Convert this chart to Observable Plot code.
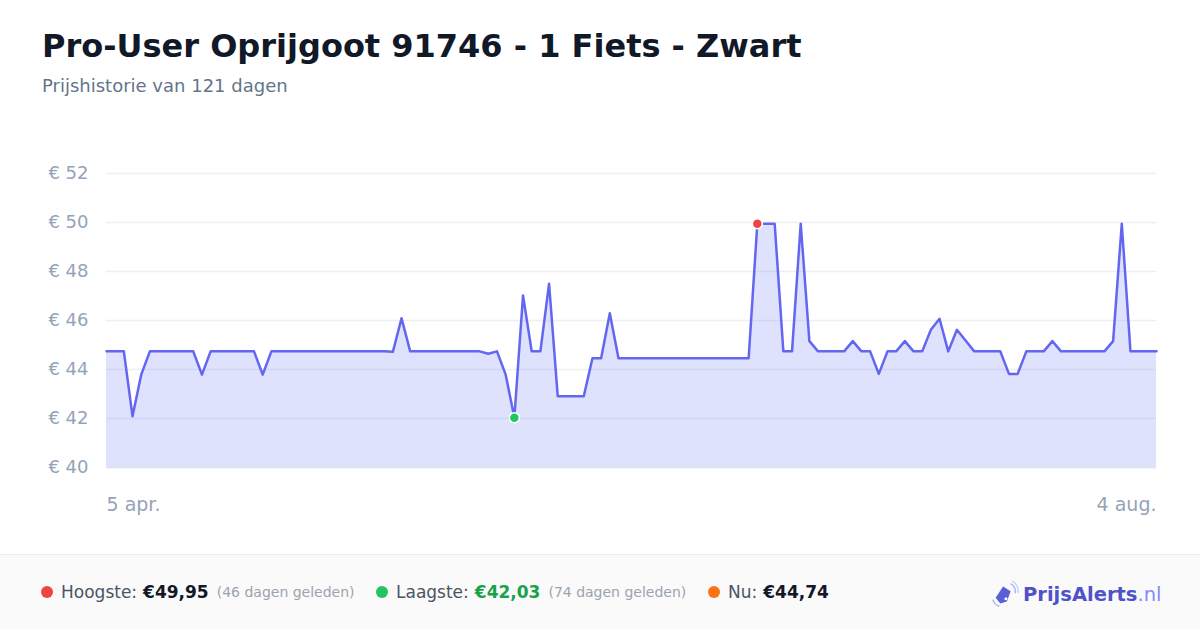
<!DOCTYPE html>
<html><head><meta charset="utf-8">
<script src="https://cdn.jsdelivr.net/npm/d3@7"></script>
<script src="https://cdn.jsdelivr.net/npm/@observablehq/plot@0.6"></script>
<style>
  html,body{margin:0;padding:0;background:#fff;}
  body{width:1200px;height:630px;position:relative;overflow:hidden;font-family:"DejaVu Sans",sans-serif;}
  #title{position:absolute;left:42px;top:27px;font-size:32px;font-weight:bold;color:#111827;white-space:nowrap;}
  #subtitle{position:absolute;left:42px;top:75px;font-size:18px;color:#64748b;white-space:nowrap;}
  #chart{position:absolute;left:0;top:110px;}
  #footer{position:absolute;left:0;top:554px;width:1200px;height:76px;background:#fafafa;border-top:1px solid #eeeeee;box-sizing:border-box;}
  .item{position:absolute;top:27px;display:flex;align-items:center;white-space:nowrap;font-size:17px;color:#4b5563;}
  .dot{width:12px;height:12px;border-radius:50%;margin-right:8px;}
  .val{font-weight:bold;color:#111827;margin-left:6px;}
  .ago{font-size:14px;color:#9ca3af;margin-left:8px;}
  #logo{position:absolute;left:990px;top:24px;display:flex;align-items:center;font-size:19.5px;font-weight:bold;color:#4f52c8;white-space:nowrap;font-family:"DejaVu Sans",sans-serif;}
  #logo .nl{font-weight:normal;color:#818cf8;}
</style></head>
<body>
<div id="title"></div>
<div id="subtitle"></div>
<div id="chart"></div>
<div id="footer">
  <div class="item" style="left:41px"><span class="dot" style="background:#ef4444"></span>Hoogste:<span class="val" id="hi"></span><span class="ago" id="hiago"></span></div>
  <div class="item" style="left:376px"><span class="dot" style="background:#22c55e"></span>Laagste:<span class="val" id="lo" style="color:#16a34a"></span><span class="ago" id="loago"></span></div>
  <div class="item" style="left:708px"><span class="dot" style="background:#f97316"></span>Nu:<span class="val" id="now"></span></div>
  <div id="logo">
    <svg width="30" height="30" viewBox="0 0 32 32" style="margin-right:3px">
      <path d="M6 20 L14 8 L22 13 L18 24 L11 26 Z" fill="#5b5fd6"/>
      <circle cx="17" cy="21" r="1.6" fill="#fff"/>
      <path d="M22 5 A10 10 0 0 1 27 15" fill="none" stroke="#a5b4fc" stroke-width="1.6"/>
      <path d="M24 2 A14 14 0 0 1 30 15" fill="none" stroke="#c7d2fe" stroke-width="1.6"/>
      <path d="M3 22 A10 10 0 0 0 10 29" fill="none" stroke="#a5b4fc" stroke-width="1.6"/>
    </svg>
    <span>PrijsAlerts</span><span class="nl">.nl</span>
  </div>
</div>
<script>
const titleText = "Pro-User Oprijgoot 91746 - 1 Fiets - Zwart";
const subtitleText = "Prijshistorie van 121 dagen";
const startDate = "2025-04-05";
const endDate = "2025-08-04";
const yTicks = [40, 42, 44, 46, 48, 50, 52];
const xTickLabels = ["5 apr.", "4 aug."];
const prices = [
  44.74, 44.74, 44.74, 42.09, 43.79, 44.74, 44.74, 44.74, 44.74, 44.74,
  44.74, 43.79, 44.74, 44.74, 44.74, 44.74, 44.74, 44.74, 43.79, 44.74,
  44.74, 44.74, 44.74, 44.74, 44.74, 44.74, 44.74, 44.74, 44.74, 44.74,
  44.74, 44.74, 44.74, 44.72, 46.09, 44.74, 44.74, 44.74, 44.74, 44.74,
  44.74, 44.74, 44.74, 44.74, 44.64, 44.74, 43.79, 42.03, 47.02, 44.74,
  44.74, 47.50, 42.91, 42.91, 42.91, 42.91, 44.46, 44.46, 46.30, 44.46,
  44.46, 44.46, 44.46, 44.46, 44.46, 44.46, 44.46, 44.46, 44.46, 44.46,
  44.46, 44.46, 44.46, 44.46, 44.46, 49.95, 49.95, 49.95, 44.74, 44.74,
  49.95, 45.16, 44.74, 44.74, 44.74, 44.74, 45.16, 44.74, 44.74, 43.82,
  44.74, 44.74, 45.16, 44.74, 44.74, 45.62, 46.07, 44.74, 45.62, 45.18,
  44.74, 44.74, 44.74, 44.74, 43.82, 43.82, 44.74, 44.74, 44.74, 45.16,
  44.74, 44.74, 44.74, 44.74, 44.74, 44.74, 45.16, 49.95, 44.74, 44.74,
  44.74, 44.74
];

const t0 = new Date(startDate + "T00:00:00Z");
const t1 = new Date(endDate + "T00:00:00Z");
const data = prices.map((p, i) => ({date: new Date(t0.getTime() + i * 86400000), price: p}));
const maxP = d3.max(prices), minP = d3.min(prices);
const maxI = prices.indexOf(maxP), minI = prices.indexOf(minP);
const lastI = prices.length - 1;
const euro = v => "€" + v.toFixed(2).replace(".", ",");

document.getElementById("title").textContent = titleText;
document.getElementById("subtitle").textContent = subtitleText;
document.getElementById("hi").textContent = euro(maxP);
document.getElementById("hiago").textContent = `(${lastI - maxI} dagen geleden)`;
document.getElementById("lo").textContent = euro(minP);
document.getElementById("loago").textContent = `(${lastI - minI} dagen geleden)`;
document.getElementById("now").textContent = euro(prices[lastI]);

const chart = Plot.plot({
  width: 1200,
  height: 430,
  marginLeft: 106,
  marginRight: 44,
  marginTop: 63,
  marginBottom: 73,
  style: {fontFamily: "DejaVu Sans, sans-serif", background: "transparent", overflow: "visible"},
  x: {type: "utc", domain: [t0, t1]},
  y: {domain: [40, 52]},
  marks: [
    Plot.gridY(yTicks, {stroke: "#eeeff2", strokeOpacity: 1, strokeWidth: 1.5}),
    Plot.areaY(data, {x: "date", y1: 40, y2: "price", fill: "#818cf8", fillOpacity: 0.25}),
    Plot.ruleY([40], {stroke: "#e2e4ea", strokeWidth: 1.5}),
    Plot.lineY(data, {x: "date", y: "price", stroke: "#6366f1", strokeWidth: 2.5, strokeLinejoin: "round"}),
    Plot.axisY(yTicks, {label: null, tickSize: 0, tickPadding: 18, fontSize: 18, fill: "#94a3b8", tickFormat: d => "€ " + d}),
    Plot.axisX([t0], {label: null, tickSize: 0, tickPadding: 30, fontSize: 19, fill: "#94a3b8", textAnchor: "start", tickFormat: () => xTickLabels[0]}),
    Plot.axisX([t1], {label: null, tickSize: 0, tickPadding: 30, fontSize: 19, fill: "#94a3b8", textAnchor: "end", tickFormat: () => xTickLabels[1]}),
    Plot.dot([data[maxI]], {x: "date", y: "price", r: 5, fill: "#ef4444", stroke: "#fff", strokeWidth: 1.5}),
    Plot.dot([data[minI]], {x: "date", y: "price", r: 5, fill: "#22c55e", stroke: "#fff", strokeWidth: 1.5})
  ]
});
document.getElementById("chart").appendChild(chart);
</script>
</body></html>
